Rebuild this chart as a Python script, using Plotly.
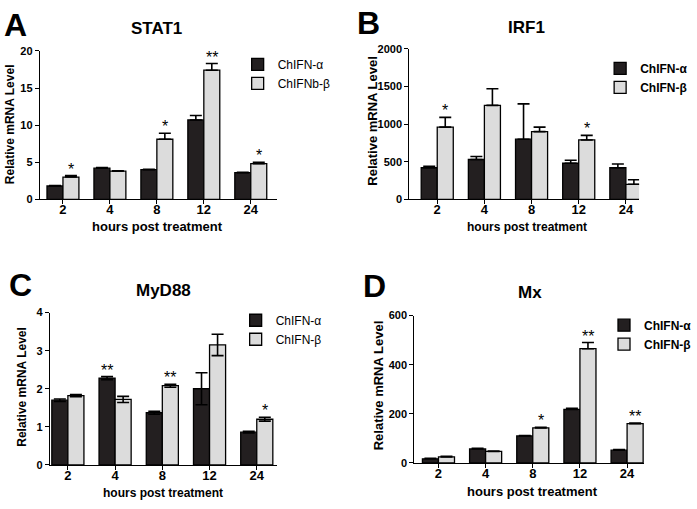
import plotly.graph_objects as go

W, H = 697, 509
FONT = "Liberation Sans"
BLACK = "#231f20"
GRAY = "#dcdcdc"

hours = ["2", "4", "8", "12", "24"]

# Panel A - STAT1
stat1_alpha = [1.8, 4.2, 4.0, 10.7, 3.6]
stat1_alpha_err = [0.05, 0.1, 0.05, 0.6, 0.05]
stat1_beta = [3.0, 3.8, 8.1, 17.4, 4.8]
stat1_beta_err = [0.2, 0.05, 0.8, 0.9, 0.2]
stat1_alpha_sig = ["", "", "", "", ""]
stat1_beta_sig = ["*", "", "*", "**", "*"]

# Panel B - IRF1
irf1_alpha = [420, 530, 800, 480, 420]
irf1_alpha_err = [20, 40, 470, 40, 50]
irf1_beta = [960, 1250, 900, 790, 200]
irf1_beta_err = [130, 220, 60, 60, 60]
irf1_alpha_sig = ["", "", "", "", ""]
irf1_beta_sig = ["*", "", "", "*", ""]

# Panel C - MyD88
myd88_alpha = [1.70, 2.28, 1.37, 2.0, 0.86]
myd88_alpha_err = [0.03, 0.04, 0.04, 0.42, 0.02]
myd88_beta = [1.82, 1.72, 2.08, 3.15, 1.20]
myd88_beta_err = [0.03, 0.08, 0.04, 0.28, 0.05]
myd88_alpha_sig = ["", "**", "", "", ""]
myd88_beta_sig = ["", "", "**", "", "*"]

# Panel D - Mx
mx_alpha = [17, 57, 110, 218, 52]
mx_alpha_err = [2, 3, 2, 4, 3]
mx_beta = [25, 47, 143, 465, 160]
mx_beta_err = [2, 2, 2, 25, 2]
mx_alpha_sig = ["", "", "", "", ""]
mx_beta_sig = ["", "", "*", "**", "**"]

BARGAP = 0.32


def px(x):
    return x / W


def py(y):
    return 1 - y / H


panels = [
    dict(letter="A", title="STAT1", alpha=stat1_alpha, aerr=stat1_alpha_err, beta=stat1_beta,
         berr=stat1_beta_err, asig=stat1_alpha_sig, bsig=stat1_beta_sig, names=["ChIFN-α", "ChIFNb-β"],
         sym=False, xd=(40, 277), yd=(46, 198), xr=[-0.49, 4.55], yr=[0, 20], dtick=5,
         letter_pos=(16, 19), title_pos=(157, 23), ytitle_pos=(10, 121), ytitle_size=12,
         xtitle_pos=(158, 226), xtitle_size=13, leg=(238, 45), leg_weight="normal"),
    dict(letter="B", title="IRF1", alpha=irf1_alpha, aerr=irf1_alpha_err, beta=irf1_beta,
         berr=irf1_beta_err, asig=irf1_alpha_sig, bsig=irf1_beta_sig, names=["ChIFN-α", "ChIFN-β"],
         sym=False, xd=(410, 640), yd=(44, 198), xr=[-0.59, 4.28], yr=[0, 2000], dtick=500,
         letter_pos=(369, 17), title_pos=(527, 22), ytitle_pos=(373, 117), ytitle_size=13,
         xtitle_pos=(528, 226), xtitle_size=12, leg=(601, 49), leg_weight="bold"),
    dict(letter="C", title="MyD88", alpha=myd88_alpha, aerr=myd88_alpha_err, beta=myd88_beta,
         berr=myd88_beta_err, asig=myd88_alpha_sig, bsig=myd88_beta_sig, names=["ChIFN-α", "ChIFN-β"],
         sym=True, xd=(50, 277), yd=(314, 470), xr=[-0.38, 4.42], yr=[0, 4], dtick=1,
         letter_pos=(21, 286), title_pos=(164, 291), ytitle_pos=(22, 390), ytitle_size=12,
         xtitle_pos=(163, 499), xtitle_size=12, leg=(236, 307), leg_weight="normal"),
    dict(letter="D", title="Mx", alpha=mx_alpha, aerr=mx_alpha_err, beta=mx_beta,
         berr=mx_beta_err, asig=mx_alpha_sig, bsig=mx_beta_sig, names=["ChIFN-α", "ChIFN-β"],
         sym=False, xd=(415, 645), yd=(317, 468), xr=[-0.51, 4.36], yr=[0, 600], dtick=200,
         letter_pos=(375, 287), title_pos=(531, 293), ytitle_pos=(379, 388), ytitle_size=13,
         xtitle_pos=(533, 497), xtitle_size=13, leg=(605, 312), leg_weight="bold"),
]

fig = go.Figure()
annotations = []
layout_axes = {}

for i, p in enumerate(panels):
    n = i + 1
    xa = "x" if n == 1 else f"x{n}"
    ya = "y" if n == 1 else f"y{n}"
    lg = "legend" if n == 1 else f"legend{n}"
    zeros = [0] * len(hours)
    for vals, errs, color, name in [(p["alpha"], p["aerr"], BLACK, p["names"][0]),
                                    (p["beta"], p["berr"], GRAY, p["names"][1])]:
        fig.add_trace(go.Bar(
            x=hours, y=vals, name=name, xaxis=xa, yaxis=ya, legend=lg,
            marker=dict(color=color, line=dict(color="black", width=1.3)),
            error_y=dict(type="data", array=errs,
                         arrayminus=(errs if p["sym"] else zeros), symmetric=False,
                         color="black", thickness=1.6, width=6),
        ))
    off = (1 - BARGAP) / 4
    for j in range(len(hours)):
        for sig, val, err, sign in [(p["asig"][j], p["alpha"][j], p["aerr"][j], -1),
                                    (p["bsig"][j], p["beta"][j], p["berr"][j], 1)]:
            if sig:
                annotations.append(dict(
                    x=j + sign * off, y=val + err, xref=xa, yref=ya, text=sig,
                    showarrow=False, yanchor="bottom", yshift=-4,
                    font=dict(family=FONT, size=16, color="black")))

    ax_key = "xaxis" if n == 1 else f"xaxis{n}"
    ay_key = "yaxis" if n == 1 else f"yaxis{n}"
    layout_axes[ax_key] = dict(
        domain=[px(p["xd"][0]), px(p["xd"][1])], anchor=ya, type="category",
        range=p["xr"], showline=True, linecolor="black", linewidth=1.3,
        ticks="outside", ticklen=4, tickwidth=1.3, tickcolor="black",
        showgrid=False, zeroline=False, ticklabelstandoff=-6,
        tickfont=dict(family=FONT, size=13, color="black", weight="bold"),
    )
    layout_axes[ay_key] = dict(
        domain=[py(p["yd"][1]), py(p["yd"][0])], anchor=xa,
        range=p["yr"], dtick=p["dtick"], showline=True, linecolor="black", linewidth=1.3,
        ticks="outside", ticklen=4, tickwidth=1.3, tickcolor="black",
        showgrid=False, zeroline=False,
        tickfont=dict(family=FONT, size=11, color="black", weight="bold"),
    )
    layout_axes[lg] = dict(
        x=px(p["leg"][0]), y=py(p["leg"][1]), xanchor="left", yanchor="top",
        bgcolor="rgba(0,0,0,0)", borderwidth=0,
        font=dict(family=FONT, size=12, color="black", weight=p["leg_weight"]),
    )
    # panel letter
    annotations.append(dict(x=px(p["letter_pos"][0]), y=py(p["letter_pos"][1]), xref="paper", yref="paper",
                            text=p["letter"], showarrow=False, xanchor="center", yanchor="middle",
                            font=dict(family=FONT, size=32, color="black", weight="bold")))
    # panel title
    annotations.append(dict(x=px(p["title_pos"][0]), y=py(p["title_pos"][1]), xref="paper", yref="paper",
                            text=p["title"], showarrow=False, xanchor="center", yanchor="middle",
                            font=dict(family=FONT, size=17, color="black", weight="bold")))
    # y title
    annotations.append(dict(x=px(p["ytitle_pos"][0]), y=py(p["ytitle_pos"][1]), xref="paper", yref="paper",
                            text="Relative mRNA Level", textangle=-90, showarrow=False,
                            xanchor="center", yanchor="middle",
                            font=dict(family=FONT, size=p["ytitle_size"], color="black", weight="bold")))
    # x title
    annotations.append(dict(x=px(p["xtitle_pos"][0]), y=py(p["xtitle_pos"][1]), xref="paper", yref="paper",
                            text="hours post treatment", showarrow=False,
                            xanchor="center", yanchor="middle",
                            font=dict(family=FONT, size=p["xtitle_size"], color="black", weight="bold")))

fig.update_layout(
    width=W, height=H, margin=dict(l=0, r=0, t=0, b=0),
    paper_bgcolor="white", plot_bgcolor="white",
    barmode="group", bargap=BARGAP, bargroupgap=0,
    font=dict(family=FONT, color="black"),
    annotations=annotations,
    **layout_axes,
)

fig.write_html("out.html", config={"displayModeBar": False},
               post_script="document.body.style.margin='0';document.body.style.overflow='hidden';")
